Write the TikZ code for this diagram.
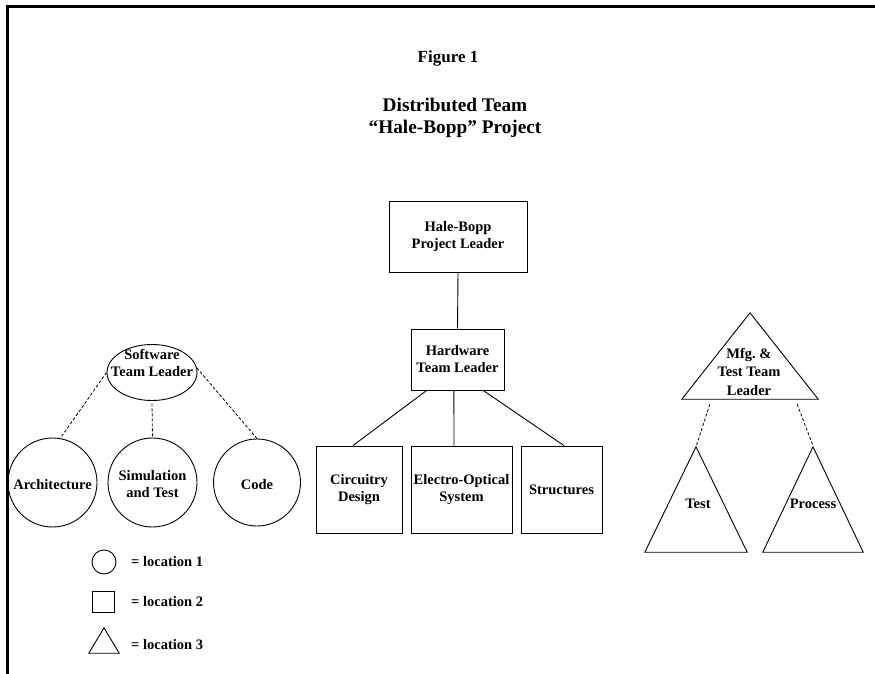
\documentclass[tikz,border=0pt]{standalone}
\usepackage{fontspec}
\setmainfont{Liberation Serif}
\usetikzlibrary{shapes.geometric,calc}
\begin{document}
\begin{tikzpicture}[x=1pt,y=-1pt,
  lbl/.style={font=\bfseries\fontsize{14.5}{17}\selectfont, align=center, inner sep=0},
  ttl/.style={font=\bfseries\fontsize{19.3}{22}\selectfont, align=center, inner sep=0},
  boxnode/.style={draw, line width=0.9pt, inner sep=0, align=center, font=\bfseries\fontsize{14.5}{17}\selectfont},
  ringnode/.style={draw, line width=0.9pt, inner sep=0},
  holder/.style={draw=none, inner sep=0},
  shapeline/.style={line width=0.9pt, line join=miter},
  solidlink/.style={line width=0.9pt},
  dashlink/.style={line width=0.8pt, dash pattern=on 3pt off 2pt}]
\useasboundingbox (0,0) rectangle (875,674);
% frame
\draw[line width=2.2pt] (7.5,674) -- (7.5,6.5) -- (875,6.5);
% titles
\node[font=\bfseries\fontsize{17}{20}\selectfont, inner sep=0] (fig) at (448,58) {Figure 1};
\node[ttl] (title) at (455,118) {Distributed Team\\“Hale-Bopp” Project};
% hardware side (location 2)
\node[boxnode, minimum width=138, minimum height=71] (hp) at (458,236.5) {Hale-Bopp\\Project Leader};
\node[boxnode, minimum width=93, minimum height=61] (hw) at (457.5,359.5) {Hardware\\Team Leader};
\node[boxnode, minimum width=86, minimum height=87] (circ) at (359,489.5) {Circuitry\\Design};
\node[boxnode, minimum width=101, minimum height=87] (elec) at (461.5,489.5) {Electro-Optical\\System};
\node[boxnode, minimum width=81, minimum height=87] (struct) at (561.5,489.5) {Structures};
\draw[solidlink] (hp.south) -- (hw.north);
\draw[solidlink] ($(hw.south west)!0.172!(hw.south east)$) -- ($(circ.north west)!0.43!(circ.north east)$);
\draw[solidlink] ($(hw.south west)!0.462!(hw.south east)$) -- ($(elec.north west)!0.426!(elec.north east)$);
\draw[solidlink] ($(hw.south west)!0.774!(hw.south east)$) -- ($(struct.north west)!0.53!(struct.north east)$);
% software side (location 1)
\node[ringnode, ellipse, minimum width=90, minimum height=56] (sw) at (152,372.5) {};
\node[lbl] (swt) at (152,362.5) {Software\\Team Leader};
\node[ringnode, circle, minimum size=89] (arch) at (52.5,482.5) {};
\node[lbl] (archt) at (52.5,485) {Architecture};
\node[ringnode, circle, minimum size=89] (sim) at (152.5,482.5) {};
\node[lbl] (simt) at (152.5,484.5) {Simulation\\and Test};
\node[ringnode, circle, minimum size=87] (code) at (257,482.5) {};
\node[lbl] (codet) at (257,485) {Code};
\draw[dashlink] (sw.west) -- (arch.80);
\draw[dashlink] ($(sw.south)+(0,2.5)$) -- (sim.north);
\draw[dashlink] (sw.6) -- (code.north);
% manufacturing side (location 3)
\node[holder, minimum width=136, minimum height=86] (mfg) at (750,356) {};
\draw[shapeline] (mfg.south west) -- (mfg.north) -- (mfg.south east) -- cycle;
\node[lbl, font=\bfseries\fontsize{14.5}{18.5}\selectfont] (mfgt) at (749,371.5) {Mfg.\ \&\\Test Team\\Leader};
\node[holder, minimum width=102, minimum height=105] (test) at (696,499.5) {};
\draw[shapeline] (test.south west) -- (test.north) -- (test.south east) -- cycle;
\node[lbl] (testt) at (698,504) {Test};
\node[holder, minimum width=100, minimum height=105] (proc) at (813,499.5) {};
\draw[shapeline] (proc.south west) -- (proc.north) -- (proc.south east) -- cycle;
\node[lbl] (proct) at (813,504) {Process};
\draw[dashlink] ($(mfg.south west)!0.206!(mfg.south east)+(0,5)$) -- (test.north);
\draw[dashlink] ($(mfg.south west)!0.846!(mfg.south east)+(0,5)$) -- ($(proc.north)+(0,-1)$);
% legend
\node[ringnode, circle, minimum size=24] (lg1) at (104,562) {};
\node[lbl, anchor=west] (lg1t) at (131,562) {= location 1};
\node[ringnode, rectangle, minimum width=22, minimum height=21] (lg2) at (103,601.5) {};
\node[lbl, anchor=west] (lg2t) at (131,602) {= location 2};
\node[holder, minimum width=30, minimum height=25] (lg3) at (104,640.5) {};
\draw[shapeline] (lg3.south west) -- (lg3.north) -- (lg3.south east) -- cycle;
\node[lbl, anchor=west] (lg3t) at (131,645) {= location 3};
\end{tikzpicture}
\end{document}
